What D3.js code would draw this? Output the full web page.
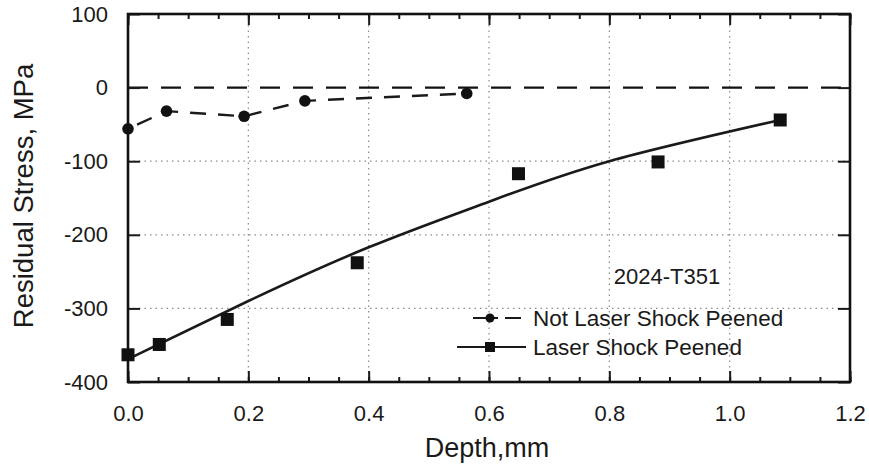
<!DOCTYPE html>
<html lang="en">
<head>
<meta charset="utf-8" />
<script src="https://cdn.jsdelivr.net/npm/d3@7"></script>
<style>
  body { margin: 0; background: #fff; }
  text { font-family: "Liberation Sans", Arial, sans-serif; fill: #1a1a1a; }
</style>
</head>
<body>
<svg id="chart" width="869" height="468"></svg>
<script>
// values
const notPeenedDepth = [0, 0.064, 0.193, 0.294, 0.563];
const notPeenedStress = [-56, -32, -39, -18, -8];
const peenedDepth = [0, 0.052, 0.165, 0.381, 0.649, 0.881, 1.084];
const peenedStress = [-363, -349, -315, -238, -117, -101, -44];
// fitted curve through the peened data, as drawn
const fitDepth = [0, 0.2, 0.4, 0.6, 0.8, 1.084];
const fitStress = [-369, -290, -217, -155, -100, -44];
const xTicks = [0, 0.2, 0.4, 0.6, 0.8, 1.0, 1.2];
const yTicks = [100, 0, -100, -200, -300, -400];
const seriesNames = ["Not Laser Shock Peened", "Laser Shock Peened"];

const svg = d3.select("#chart");
const plotL = 128, plotR = 850, plotT = 14, plotB = 382;
const x = d3.scaleLinear().domain([0, 1.2]).range([plotL, plotR]);
const y = d3.scaleLinear().domain([-400, 100]).range([plotB, plotT]);

// dotted grid
const grid = svg.append("g").attr("stroke", "#8a8a8a").attr("stroke-width", 1.2)
  .attr("stroke-dasharray", "1.5,4");
grid.selectAll("line.v").data(xTicks.filter(d => d > 0 && d < 1.2)).join("line")
  .attr("x1", d => x(d)).attr("x2", d => x(d)).attr("y1", plotT).attr("y2", plotB);
grid.selectAll("line.h").data(yTicks.filter(d => d < 0 && d > -400)).join("line")
  .attr("x1", plotL).attr("x2", plotR).attr("y1", d => y(d)).attr("y2", d => y(d));

// zero line
svg.append("line")
  .attr("x1", plotL).attr("x2", plotR).attr("y1", y(0)).attr("y2", y(0))
  .attr("stroke", "#111").attr("stroke-width", 2.2).attr("stroke-dasharray", "20,13");

// axes, ticks inward
const minorX = d3.range(0, 1.2001, 0.05);
function styleAxis(g) {
  g.select(".domain").remove();
  g.selectAll("line").attr("stroke", "#1a1a1a").attr("stroke-width", 2);
}
svg.append("g").attr("transform", `translate(0,${plotB})`)
  .call(d3.axisBottom(x).tickValues(minorX).tickSize(-5).tickFormat(""))
  .call(styleAxis);
svg.append("g").attr("transform", `translate(0,${plotT})`)
  .call(d3.axisTop(x).tickValues(minorX).tickSize(-5).tickFormat(""))
  .call(styleAxis);
svg.append("g").attr("transform", `translate(0,${plotB})`)
  .call(d3.axisBottom(x).tickValues(xTicks).tickSize(-11).tickPadding(23).tickFormat(d => d.toFixed(1)))
  .call(styleAxis)
  .call(g => g.selectAll("text").attr("font-size", 22).attr("fill", "#1a1a1a"));
svg.append("g").attr("transform", `translate(0,${plotT})`)
  .call(d3.axisTop(x).tickValues(xTicks).tickSize(-11).tickFormat(""))
  .call(styleAxis);
svg.append("g").attr("transform", `translate(${plotL},0)`)
  .call(d3.axisLeft(y).tickValues(yTicks).tickSize(-12).tickPadding(20).tickFormat(d => String(d)))
  .call(styleAxis)
  .call(g => g.selectAll("text").attr("font-size", 22).attr("fill", "#1a1a1a"));
svg.append("g").attr("transform", `translate(${plotR},0)`)
  .call(d3.axisRight(y).tickValues(yTicks).tickSize(-12).tickFormat(""))
  .call(styleAxis);

// frame
svg.append("rect").attr("x", plotL).attr("y", plotT)
  .attr("width", plotR - plotL).attr("height", plotB - plotT)
  .attr("fill", "none").attr("stroke", "#111").attr("stroke-width", 2.6);

// not peened: dashed line with dots
const notPeened = notPeenedDepth.map((d, i) => [d, notPeenedStress[i]]);
svg.append("path").datum(notPeened)
  .attr("d", d3.line().x(d => x(d[0])).y(d => y(d[1])))
  .attr("fill", "none").attr("stroke", "#1a1a1a").attr("stroke-width", 2.4)
  .attr("stroke-dasharray", "16,12").attr("stroke-dashoffset", -10);
svg.selectAll("circle.np").data(notPeened).join("circle")
  .attr("cx", d => x(d[0])).attr("cy", d => y(d[1])).attr("r", 5.8).attr("fill", "#111");

// peened: fitted curve and squares
const fit = fitDepth.map((d, i) => [d, fitStress[i]]);
svg.append("path").datum(fit)
  .attr("d", d3.line().curve(d3.curveNatural).x(d => x(d[0])).y(d => y(d[1])))
  .attr("fill", "none").attr("stroke", "#1a1a1a").attr("stroke-width", 2.6);
const sq = 13;
svg.selectAll("rect.p").data(peenedDepth.map((d, i) => [d, peenedStress[i]])).join("rect")
  .attr("x", d => x(d[0]) - sq / 2).attr("y", d => y(d[1]) - sq / 2)
  .attr("width", sq).attr("height", sq).attr("fill", "#111");

// alloy label and legend
svg.append("text").attr("x", 667).attr("y", 284).attr("text-anchor", "middle")
  .attr("font-size", 22).text("2024-T351");
const lg = svg.append("g");
lg.append("line").attr("x1", 473).attr("x2", 521).attr("y1", 318).attr("y2", 318)
  .attr("stroke", "#1a1a1a").attr("stroke-width", 2.2).attr("stroke-dasharray", "25,7");
lg.append("circle").attr("cx", 490).attr("cy", 318).attr("r", 4.5).attr("fill", "#111");
lg.append("line").attr("x1", 457).attr("x2", 526).attr("y1", 347).attr("y2", 347)
  .attr("stroke", "#1a1a1a").attr("stroke-width", 2.2);
lg.append("rect").attr("x", 485).attr("y", 342).attr("width", 10).attr("height", 10).attr("fill", "#111");
lg.selectAll("text").data(seriesNames).join("text")
  .attr("x", 533).attr("y", (d, i) => 326 + i * 29)
  .attr("font-size", 22.5).text(d => d);

// axis titles
svg.append("text").attr("x", 487).attr("y", 457).attr("text-anchor", "middle")
  .attr("font-size", 27).text("Depth,mm");
svg.append("text").attr("transform", "translate(33,196) rotate(-90)")
  .attr("text-anchor", "middle").attr("font-size", 27.5).text("Residual Stress, MPa");
</script>
</body>
</html>
